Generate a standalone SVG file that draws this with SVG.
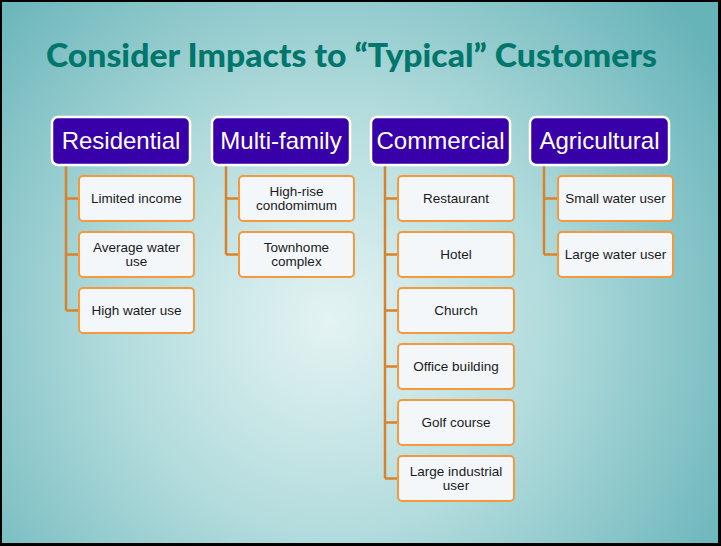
<svg xmlns="http://www.w3.org/2000/svg" width="721" height="546" viewBox="0 0 721 546">
<defs>
<radialGradient id="bg" cx="330" cy="320" r="470" gradientUnits="userSpaceOnUse">
<stop offset="0" stop-color="#e4f3f3"/>
<stop offset="0.45" stop-color="#b3dcdd"/>
<stop offset="1" stop-color="#66b3b8"/>
</radialGradient>
<style>
.hd rect{fill:#3700a8;stroke:#ffffff;stroke-width:2.5}
.hd text{fill:#ffffff;font-family:"Liberation Sans",Arial,sans-serif;font-size:24px;text-anchor:middle}
.ch rect{fill:#f3f7f9;stroke:#f7993a;stroke-width:2}
.ch text{fill:#1a1a1a;font-family:"Liberation Sans",Arial,sans-serif;font-size:13.5px;text-anchor:middle}
.cn path{fill:none;stroke:#d9822b;stroke-width:2.5}
</style>
</defs>
<rect x="0" y="0" width="721" height="546" fill="#000"/>
<rect x="2" y="2" width="716" height="541" fill="url(#bg)"/>
<text x="46" y="67" textLength="611" lengthAdjust="spacingAndGlyphs" font-family="Lato,'Open Sans',sans-serif" font-weight="900" font-size="33" fill="#00766c">Consider Impacts to “Typical” Customers</text>
<g class="cn" id="connectors">
<path d="M66 165V310.5M66 198.5H79M66 254.5H79M66 310.5H79"/>
<path d="M226 165V254.5M226 198.5H239M226 254.5H239"/>
<path d="M385 165V478.5M385 198.5H398M385 254.5H398M385 310.5H398M385 366.5H398M385 422.5H398M385 478.5H398"/>
<path d="M544 165V254.5M544 198.5H558M544 254.5H558"/>
</g>
<g class="hd" id="residential"><rect x="52" y="117" width="138" height="48" rx="6"/><text x="121" y="149">Residential</text></g>
<g class="hd" id="multifamily"><rect x="212" y="117" width="138" height="48" rx="6"/><text x="281" y="149">Multi-family</text></g>
<g class="hd" id="commercial"><rect x="371" y="117" width="139" height="48" rx="6"/><text x="440.5" y="149">Commercial</text></g>
<g class="hd" id="agricultural"><rect x="530" y="117" width="139" height="48" rx="6"/><text x="599.5" y="149">Agricultural</text></g>
<g class="ch" id="limited-income"><rect x="79" y="176" width="115" height="45" rx="4"/><text x="136.5" y="203">Limited income</text></g>
<g class="ch" id="average-water-use"><rect x="79" y="232" width="115" height="45" rx="4"/><text x="136.5" y="252">Average water</text><text x="136.5" y="266">use</text></g>
<g class="ch" id="high-water-use"><rect x="79" y="288" width="115" height="45" rx="4"/><text x="136.5" y="315">High water use</text></g>
<g class="ch" id="high-rise"><rect x="239" y="176" width="115" height="45" rx="4"/><text x="296.5" y="196">High-rise</text><text x="296.5" y="210">condomimum</text></g>
<g class="ch" id="townhome"><rect x="239" y="232" width="115" height="45" rx="4"/><text x="296.5" y="252">Townhome</text><text x="296.5" y="266">complex</text></g>
<g class="ch" id="restaurant"><rect x="398" y="176" width="116" height="45" rx="4"/><text x="456" y="203">Restaurant</text></g>
<g class="ch" id="hotel"><rect x="398" y="232" width="116" height="45" rx="4"/><text x="456" y="259">Hotel</text></g>
<g class="ch" id="church"><rect x="398" y="288" width="116" height="45" rx="4"/><text x="456" y="315">Church</text></g>
<g class="ch" id="office"><rect x="398" y="344" width="116" height="45" rx="4"/><text x="456" y="371">Office building</text></g>
<g class="ch" id="golf"><rect x="398" y="400" width="116" height="45" rx="4"/><text x="456" y="427">Golf course</text></g>
<g class="ch" id="industrial"><rect x="398" y="456" width="116" height="45" rx="4"/><text x="456" y="476">Large industrial</text><text x="456" y="490">user</text></g>
<g class="ch" id="small-water"><rect x="558" y="176" width="115" height="45" rx="4"/><text x="615.5" y="203">Small water user</text></g>
<g class="ch" id="large-water"><rect x="558" y="232" width="115" height="45" rx="4"/><text x="615.5" y="259">Large water user</text></g>
</svg>
